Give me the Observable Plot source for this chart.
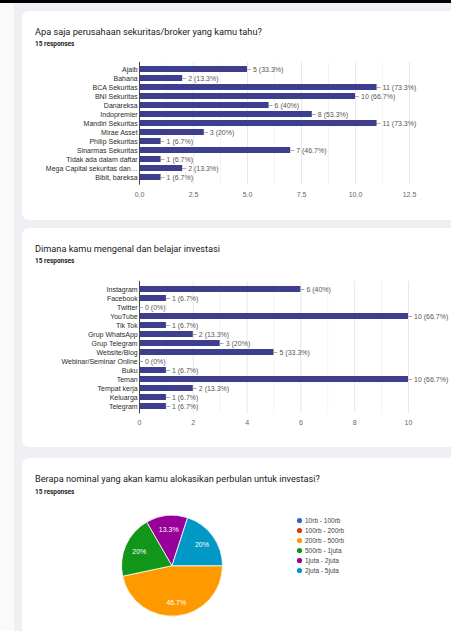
<!DOCTYPE html>
<html><head><meta charset="utf-8">
<script src="https://cdn.jsdelivr.net/npm/d3@7"></script>
<script src="https://cdn.jsdelivr.net/npm/@observablehq/plot@0.6"></script>
<style>
html,body{margin:0;padding:0;}
body{width:451px;height:631px;overflow:hidden;background:#eff0f3;position:relative;font-family:Roboto,"Liberation Sans",Arial,sans-serif;}
.strip{position:absolute;left:0;top:3px;width:14px;height:640px;background:#fafafa}
.topbar{position:absolute;left:0;top:0;width:451px;height:3px;background:#000}
.card{position:absolute;left:22px;width:470px;background:#fff;border-radius:7px}
.title{position:absolute;left:35px;font-size:9.2px;line-height:9.2px;color:#202124;white-space:nowrap}
.resp{position:absolute;left:35px;font-size:6.5px;line-height:6.5px;font-weight:bold;color:#202124;white-space:nowrap}
.plot{position:absolute;left:0}
[aria-label^="x-axis"] text{fill:#666}
</style>
</head><body>
<div class="topbar"></div>
<div class="strip"></div>
<div class="card" style="top:11px;height:209px"></div>
<div class="card" style="top:228px;height:219px"></div>
<div class="card" style="top:458px;height:200px"></div>
<div class="title" style="top:27.4px">Apa saja perusahaan sekuritas/broker yang kamu tahu?</div>
<div class="resp" style="top:40.5px">15 responses</div>
<div class="title" style="top:243.7px">Dimana kamu mengenal dan belajar investasi</div>
<div class="resp" style="top:258.4px">15 responses</div>
<div class="title" style="top:473.7px">Berapa nominal yang akan kamu alokasikan perbulan untuk investasi?</div>
<div class="resp" style="top:489.4px">15 responses</div>
<div id="c1" class="plot" style="top:0px"></div>
<div id="c2" class="plot" style="top:220px"></div>
<div id="c3" class="plot" style="top:458px"></div>
<div id="c4" class="plot" style="top:458px"></div>
<script>
const responses = 15;

const brokerNames = ["Ajaib","Bahana","BCA Sekuritas","BNI Sekuritas","Danareksa","Indopremier","Mandiri Sekuritas","Mirae Asset","Philip Sekuritas","Sinarmas Sekuritas","Tidak ada dalam daftar","Mega Capital sekuritas dan…","Bibit, bareksa"];
const brokerCounts = [5,2,11,10,6,8,11,3,1,7,1,2,1];
const brokerTicks = [0,2.5,5,7.5,10,12.5];
const brokerMinor = [1.25,3.75,6.25,8.75,11.25];

const sourceNames = ["Instagram","Facebook","Twitter","YouTube","Tik Tok","Grup WhatsApp","Grup Telegram","Website/Blog","Webinar/Seminar Online","Buku","Teman","Tempat kerja","Keluarga","Telegram"];
const sourceCounts = [6,1,0,10,1,2,3,5,0,1,10,2,1,1];
const sourceTicks = [0,2,4,6,8,10];
const sourceMinor = [1,3,5,7,9];

const amountNames = ["10rb - 100rb","100rb - 200rb","200rb - 500rb","500rb - 1juta","1juta - 2juta","2juta - 5juta"];
const amountCounts = [0,0,7,3,2,3];
const amountColors = ["#3366cc","#dc3912","#ff9900","#109618","#990099","#0099c6"];

const pct = v => d3.format(".1f")(v / responses * 100).replace(/\.0$/, "") + "%";

function barChart({names, counts, domain, ticks, minor, tickFormat, height, marginTop, marginBottom, marginRight}) {
  const data = names.map((name, i) => ({name, value: counts[i]}));
  const W = 451, ML = 139;
  const pxPerUnit = (W - ML - marginRight) / domain[1];
  const leader = 4 / pxPerUnit;
  return Plot.plot({
    width: W, height, marginLeft: ML, marginRight, marginTop, marginBottom,
    style: {fontFamily: "'Liberation Sans', Arial, sans-serif", fontSize: "7px", color: "#2a2a2a", background: "transparent"},
    x: {domain, ticks, tickFormat, tickSize: 0, tickPadding: 6.5, label: null},
    y: {domain: names, paddingInner: 0.34, paddingOuter: 0.17, tickSize: 0, tickPadding: 1.8, label: null},
    marks: [
      Plot.ruleX(minor, {stroke: "#f3f3f3"}),
      Plot.ruleX(ticks.filter(t => t > 0), {stroke: "#e8e8e8"}),
      Plot.barX(data, {x: "value", y: "name", fill: "#3d3f8e"}),
      Plot.ruleX([0], {stroke: "#444"}),
      Plot.ruleY(data, {y: "name", x1: "value", x2: d => d.value + leader, stroke: "#999", strokeWidth: 0.8}),
      Plot.text(data, {y: "name", x: "value", text: d => `${d.value} (${pct(d.value)})`, dx: 5.5, textAnchor: "start", fill: "#555"})
    ]
  });
}

document.getElementById("c1").append(barChart({
  names: brokerNames, counts: brokerCounts, domain: [0, 12.5], ticks: brokerTicks, minor: brokerMinor,
  tickFormat: d3.format(".1f"), height: 200, marginTop: 62, marginBottom: 15.3, marginRight: 42
}));
document.getElementById("c2").append(barChart({
  names: sourceNames, counts: sourceCounts, domain: [0, 10], ticks: sourceTicks, minor: sourceMinor,
  tickFormat: d3.format("d"), height: 210, marginTop: 61, marginBottom: 16.7, marginRight: 43
}));

// Pie
const arcs = d3.pie().sort(null).startAngle(Math.PI / 2).endAngle(Math.PI / 2 + 2 * Math.PI)(amountCounts);
const sliceData = amountNames.map((name, i) => ({
  name, value: amountCounts[i], start: arcs[i].startAngle, end: arcs[i].endAngle,
  mid: (arcs[i].startAngle + arcs[i].endAngle) / 2
}));
const colorOf = d3.scaleOrdinal(amountNames, amountColors);

function pieSlices(...args) {
  const sc = args.find(a => a && typeof a === "object" && typeof a.x === "function" && typeof a.y === "function");
  const cx = sc.x(0), cy = sc.y(0), r = sc.x(1) - sc.x(0);
  const arc = d3.arc().innerRadius(0).outerRadius(r);
  const g = d3.create("svg:g").attr("transform", `translate(${cx},${cy})`);
  g.selectAll("path").data(sliceData.filter(d => d.value > 0)).join("path")
    .attr("d", d => arc({startAngle: d.start, endAngle: d.end}))
    .attr("fill", d => colorOf(d.name))
    .attr("stroke", "#fff").attr("stroke-width", 0.8);
  return g.node();
}

const cy0 = 107.7, rad = 50.5, cx0 = 172;
document.getElementById("c3").append(Plot.plot({
  width: 451, height: 173, margin: 0,
  style: {fontFamily: "'Liberation Sans', Arial, sans-serif", fontSize: "7px", background: "transparent"},
  x: {domain: [-1, 1], range: [cx0 - rad, cx0 + rad], axis: null},
  y: {domain: [-1, 1], range: [cy0 + rad, cy0 - rad], axis: null},
  marks: [
    pieSlices,
    Plot.text(sliceData.filter(d => d.value > 0), {
      x: d => 0.72 * Math.sin(d.mid), y: d => 0.72 * Math.cos(d.mid),
      text: d => pct(d.value), fill: "white", fontSize: 7
    })
  ]
}));

document.getElementById("c4").append(Plot.plot({
  width: 451, height: 133, marginTop: 61.7, marginBottom: 20, marginLeft: 299, marginRight: 10,
  style: {fontFamily: "'Liberation Sans', Arial, sans-serif", fontSize: "6.5px", background: "transparent"},
  y: {type: "point", domain: amountNames, padding: 0, axis: null},
  color: {domain: amountNames, range: amountColors},
  marks: [
    Plot.dot(amountNames, {y: d => d, fill: d => d, r: 2.6, frameAnchor: "left"}),
    Plot.text(amountNames, {y: d => d, text: d => d, frameAnchor: "left", dx: 5.5, textAnchor: "start", fill: "#444"})
  ]
}));
</script>
</body></html>
